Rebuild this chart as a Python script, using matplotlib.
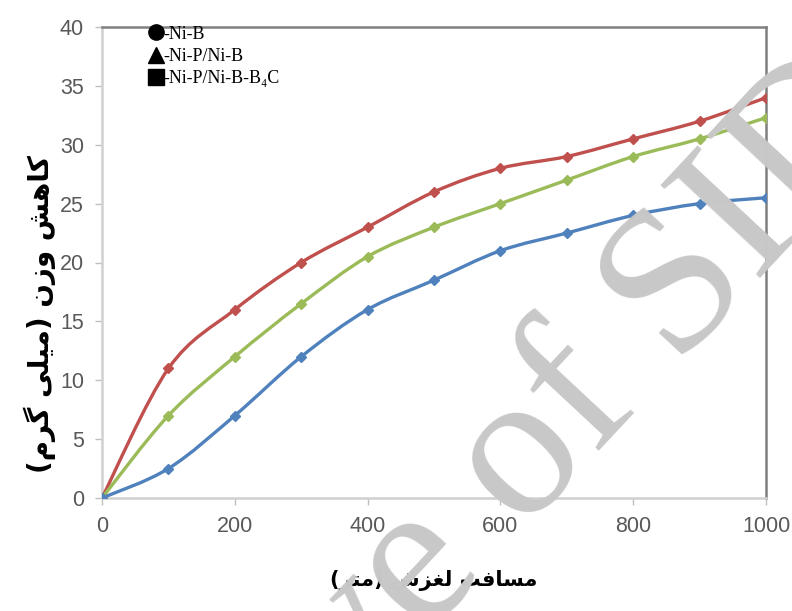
import matplotlib
matplotlib.use("Agg")
import matplotlib.pyplot as plt
from matplotlib.path import Path
from matplotlib.patches import PathPatch
from matplotlib.lines import Line2D
import numpy as np

# ---- data ----
distance = [0, 100, 200, 300, 400, 500, 600, 700, 800, 900, 1000]
ni_b = [0, 11, 16, 20, 23, 26, 28, 29, 30.5, 32, 34]
ni_p_ni_b = [0, 7, 12, 16.5, 20.5, 23, 25, 27, 29, 30.5, 32.3]
ni_p_ni_b_b4c = [0, 2.5, 7, 12, 16, 18.5, 21, 22.5, 24, 25, 25.5]
legend_labels = ["-Ni-B", "-Ni-P/Ni-B", "-Ni-P/Ni-B-B\u2084C"]
x_ticks = [0, 200, 400, 600, 800, 1000]
y_ticks = [0, 5, 10, 15, 20, 25, 30, 35, 40]
# Persian labels (presentation forms, visual order)
xlabel = "(\uFEAE\uFE98\uFEE3) \uFEB5\uFEB0\uFED0\uFEDF \uFE96\uFED3\uFE8E\uFEB4\uFEE3"
ylabel = "(\uFEE1\uFEAE\uFB94 \uFBFD\uFEE0\uFBFF\uFEE3) \uFEE5\uFEAF\uFEED \uFEB6\uFEEB\uFE8E\uFB90"
watermark = "Archive of SID"

colors = ["#C0504D", "#9BBB59", "#4F81BD"]

fig = plt.figure(figsize=(7.92, 6.11), dpi=100)
ax = fig.add_axes([102/792, 1-498/611, (766-102)/792, (498-27)/611])


def smooth_path(xs, ys):
    pts = np.column_stack([xs, ys]).astype(float)
    n = len(pts)
    verts = [pts[0]]
    codes = [Path.MOVETO]
    for i in range(n - 1):
        p0 = pts[i - 1] if i > 0 else pts[i]
        p1 = pts[i]
        p2 = pts[i + 1]
        p3 = pts[i + 2] if i + 2 < n else pts[i + 1]
        c1 = p1 + (p2 - p0) / 6.0
        c2 = p2 - (p3 - p1) / 6.0
        verts += [c1, c2, p2]
        codes += [Path.CURVE4] * 3
    return Path(verts, codes)


for ys, c in zip([ni_b, ni_p_ni_b, ni_p_ni_b_b4c], colors):
    patch = PathPatch(smooth_path(distance, ys), facecolor="none",
                      edgecolor=c, lw=2.4, transform=ax.transData, zorder=3)
    ax.add_patch(patch)
    ax.plot(distance, ys, linestyle="none", marker="D", markersize=5,
            color=c, zorder=4)

ax.set_xlim(0, 1000)
ax.set_ylim(0, 40)
ax.set_xticks(x_ticks)
ax.set_yticks(y_ticks)
for lab in ax.get_xticklabels() + ax.get_yticklabels():
    lab.set_family("Liberation Sans")
    lab.set_fontsize(15.5)
    lab.set_color("#595959")
ax.tick_params(axis="both", direction="out", length=5, width=1,
               color="#bfbfbf")
ax.tick_params(axis="x", pad=8)
ax.tick_params(axis="y", pad=8)

for s in ["top", "right"]:
    ax.spines[s].set_color("#808080")
    ax.spines[s].set_linewidth(1.8)
for s in ["left", "bottom"]:
    ax.spines[s].set_color("#d0d0d0")
    ax.spines[s].set_linewidth(1.8)

ax.set_xlabel(xlabel, fontsize=15, fontweight="bold", family="DejaVu Sans",
              labelpad=24)
ax.set_ylabel(ylabel, fontsize=20, fontweight="bold", family="DejaVu Sans")
ax.yaxis.set_label_coords(-0.07, 0.39)

handles = [Line2D([], [], linestyle="none", marker=m, color="black",
                  markersize=ms) for m, ms in zip(["o", "^", "s"], [11, 11, 11])]
leg = ax.legend(handles, legend_labels, loc="upper left",
                bbox_to_anchor=(0.055, 1.022), frameon=False, borderpad=0.0,
                handletextpad=0.0, handlelength=0.9, labelspacing=0.3,
                prop={"family": ["Liberation Serif", "DejaVu Serif"], "size": 13})

fig.text(0.544, 0.087, watermark, fontsize=150, family="Liberation Serif",
         color="#c8c8c8", rotation=47, ha="center", va="center",
         rotation_mode="anchor", zorder=10)

fig.savefig("out.png", dpi=100)
